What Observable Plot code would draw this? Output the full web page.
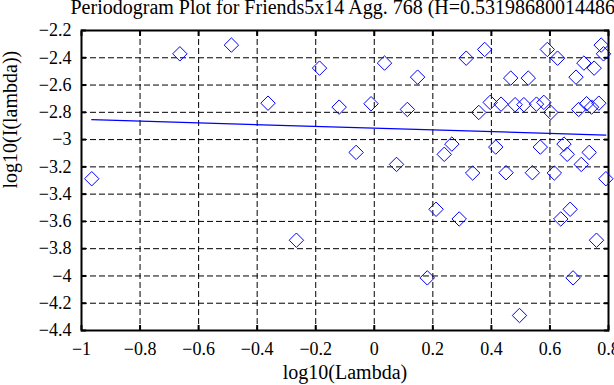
<!DOCTYPE html>
<html>
<head>
<meta charset="utf-8">
<script src="https://cdn.jsdelivr.net/npm/d3@7"></script>
<script src="https://cdn.jsdelivr.net/npm/@observablehq/plot@0.6"></script>
<style>
  body { margin: 0; background: white; }
  #chart svg { display: block; }
  #chart svg, #chart svg text { font-family: "Liberation Serif", "DejaVu Serif", serif !important; }
</style>
</head>
<body>
<div id="chart"></div>
<script>
const titleText = "Periodogram Plot for Friends5x14 Agg. 768 (H=0.53198680014486)";
const xLabel = "log10(Lambda)";
const yLabel = "log10(I(lambda))";

const logLambda = [-0.965,-0.664,-0.488,-0.363,-0.266,-0.187,-0.120,-0.062,-0.011,0.035,0.076,0.113,0.148,0.181,0.211,0.239,0.265,0.290,0.314,0.336,0.357,0.377,0.396,0.415,0.433,0.450,0.466,0.481,0.496,
  0.511,0.526,0.540,0.554,0.567,0.579,0.591,0.603,0.615,0.626,0.637,0.648,0.659,0.669,0.679,0.689,0.698,0.707,0.716,0.725,0.734,0.742,0.751,0.759,0.767,0.775,0.783,0.791];
const logI = [-3.287,-2.371,-2.307,-2.733,-3.738,-2.476,-2.762,-3.094,-2.737,-2.439,-3.182,-2.779,-2.542,-4.014,-3.511,-3.108,-3.033,-3.582,-2.403,-3.245,-2.801,-2.339,-2.727,-3.055,-2.740,-3.243,-2.549,-2.744,-4.290,
  -2.744,-2.549,-3.243,-2.740,-3.055,-2.727,-2.339,-2.801,-3.245,-2.403,-3.582,-3.033,-3.108,-3.511,-4.014,-2.542,-2.779,-3.182,-2.439,-2.737,-3.094,-2.762,-2.476,-3.738,-2.733,-2.307,-2.371,-3.287];

// least-squares fit line endpoints
const fitX = [-0.965, 0.791];
const fitY = [-2.854, -2.967];

const xTicks = [-1,-0.8,-0.6,-0.4,-0.2,0,0.2,0.4,0.6,0.8];
const yTicks = [-4.4,-4.2,-4,-3.8,-3.6,-3.4,-3.2,-3,-2.8,-2.6,-2.4,-2.2];
const xGrid = [-0.8,-0.6,-0.4,-0.2,0,0.2,0.4,0.6];
const yGrid = [-4.2,-4,-3.8,-3.6,-3.4,-3.2,-3,-2.8,-2.6,-2.4];

const points = logLambda.map((x, i) => ({x, y: logI[i]}));
const fit = fitX.map((x, i) => ({x, y: fitY[i]}));
const fmt = d3.format("~g");
const blue = "#0000ff";

const plot = Plot.plot({
  width: 614,
  height: 385,
  marginLeft: 81,
  marginRight: 6,
  marginTop: 30,
  marginBottom: 55,
  style: {fontFamily: "Liberation Serif", fontSize: "18px", background: "white", color: "black"},
  x: {domain: [-1, 0.8]},
  y: {domain: [-4.4, -2.2]},
  marks: [
    Plot.gridX(xGrid, {stroke: "black", strokeOpacity: 1, strokeDasharray: "6,3"}),
    Plot.gridY(yGrid, {stroke: "black", strokeOpacity: 1, strokeDasharray: "6,3"}),
    Plot.axisX(xTicks, {anchor: "bottom", tickSize: 5, dy: -5, tickFormat: () => "", label: null, strokeWidth: 2}),
    Plot.axisX(xTicks, {anchor: "top", tickSize: 5, dy: 5, tickFormat: () => "", label: null, strokeWidth: 2}),
    Plot.axisY(yTicks, {anchor: "left", tickSize: 5, dx: 5, tickFormat: () => "", label: null, strokeWidth: 2}),
    Plot.axisY(yTicks, {anchor: "right", tickSize: 5, dx: -5, tickFormat: () => "", label: null, strokeWidth: 2}),
    Plot.axisX(xTicks, {anchor: "bottom", tickSize: 0, tickPadding: 12, tickFormat: fmt, label: null, fontSize: 18}),
    Plot.axisY(yTicks, {anchor: "left", tickSize: 0, tickPadding: 10, tickFormat: fmt, label: null, fontSize: 18}),
    Plot.frame({stroke: "black", strokeWidth: 2}),
    Plot.line(fit, {x: "x", y: "y", stroke: blue, strokeWidth: 1.2}),
    Plot.dot(points, {x: "x", y: "y", symbol: "diamond2", r: 6.5, stroke: blue, strokeWidth: 1, fill: "none"}),
    Plot.text([titleText], {frameAnchor: "top-left", dx: -11, dy: -23, textAnchor: "start", lineAnchor: "middle", fontSize: 20}),
    Plot.text([xLabel], {frameAnchor: "bottom", dy: 42.5, lineAnchor: "middle", fontSize: 20}),
    Plot.text([yLabel], {frameAnchor: "left", dx: -71, dy: 8, rotate: -90, lineAnchor: "middle", fontSize: 20})
  ]
});
document.getElementById("chart").appendChild(plot);
</script>
</body>
</html>
